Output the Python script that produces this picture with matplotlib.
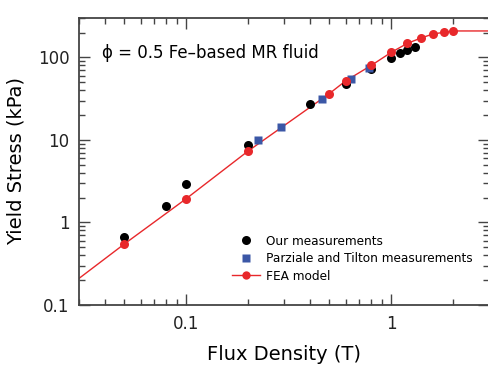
import matplotlib
matplotlib.use('Agg')
import matplotlib.pyplot as plt
from matplotlib.ticker import LogLocator, FixedLocator, FixedFormatter, NullFormatter

# --- data ---
our_B = [0.05, 0.08, 0.1, 0.2, 0.4, 0.6, 0.8, 1.0, 1.1, 1.2, 1.3]
our_tau = [0.66, 1.6, 2.9, 8.7, 27, 47, 72, 97, 113, 124, 132]

pt_B = [0.225, 0.29, 0.46, 0.64, 0.78]
pt_tau = [10, 14.5, 31, 54, 75]

fea_B = [0.05, 0.1, 0.2, 0.5, 0.6, 0.8, 1.0, 1.2, 1.4, 1.6, 1.8, 2.0]
fea_tau = [0.55, 1.94, 7.3, 36.5, 52, 80, 115, 148, 172, 192, 201, 209]
# model curve extended to the axis edges
fea_line_B = [0.03] + fea_B + [3.0]
fea_line_tau = [0.21] + fea_tau + [209]

red = '#e8282b'
blue = '#3b57a6'
spine_c = '#444444'

fig = plt.figure(figsize=(4.89, 3.67), dpi=100)
ax = fig.add_axes([79/489, 1-305/367, 1-79/489, (305-18)/367])

ax.plot(fea_line_B, fea_line_tau, color=red, lw=1.0, zorder=2)
ax.plot(our_B, our_tau, 'o', color='black', ms=6.5, mec='none', zorder=3, label='Our measurements')
ax.plot(pt_B, pt_tau, 's', color=blue, ms=5.5, mec='none', zorder=3, label='Parziale and Tilton measurements')
ax.plot(fea_B, fea_tau, 'o', color=red, ms=6.5, mec='none', zorder=4)
# legend proxy for the model (line + marker)
ax.plot([], [], '-o', color=red, lw=1.0, ms=6, mec='none', label='FEA model')

ax.set_xscale('log'); ax.set_yscale('log')
ax.set_xlim(0.03, 3); ax.set_ylim(0.1, 300)

ax.xaxis.set_major_locator(FixedLocator([0.1, 1]))
ax.xaxis.set_major_formatter(FixedFormatter(['0.1', '1']))
ax.xaxis.set_minor_locator(LogLocator(base=10, subs=range(2, 10)))
ax.xaxis.set_minor_formatter(NullFormatter())
ax.yaxis.set_major_locator(FixedLocator([0.1, 1, 10, 100]))
ax.yaxis.set_major_formatter(FixedFormatter(['0.1', '1', '10', '100']))
ax.yaxis.set_minor_locator(LogLocator(base=10, subs=range(2, 10)))
ax.yaxis.set_minor_formatter(NullFormatter())

ax.tick_params(which='both', direction='in', top=True, right=True, color=spine_c, width=1.0)
ax.tick_params(which='major', length=8, labelsize=12, pad=7, labelcolor='#222222')
ax.tick_params(which='minor', length=4.5)
for s in ax.spines.values():
    s.set_color(spine_c); s.set_linewidth(1.3)

ax.set_xlabel('Flux Density (T)', fontsize=14, labelpad=9)
ax.set_ylabel('Yield Stress (kPa)', fontsize=14, labelpad=9)

ax.text(0.055, 0.879, '\u03d5 = 0.5 Fe\u2013based MR fluid', transform=ax.transAxes,
        fontsize=12, va='center', ha='left')

leg = ax.legend(loc='upper left', bbox_to_anchor=(0.352, 0.275), frameon=False, fontsize=8.7,
                handlelength=2.3, handletextpad=0.55, labelspacing=0.38, borderpad=0.2)

fig.savefig('out.png', dpi=100)
